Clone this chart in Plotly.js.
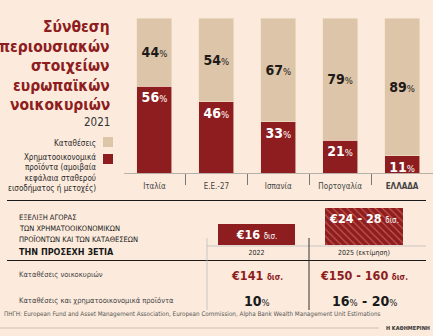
<!DOCTYPE html>
<html><head><meta charset="utf-8">
<script src="https://cdn.plot.ly/plotly-3.0.1.min.js"></script>
<style>html,body{margin:0;padding:0;background:#fcebdc;}#chart{width:433px;height:336px;}</style>
</head><body><div id="chart"></div>
<script>
// ---- data ----
const countries = ["Ιταλία", "Ε.Ε.-27", "Ισπανία", "Πορτογαλία", "ΕΛΛΑΔΑ"];
const financialProducts = [56, 46, 33, 21, 11];
const deposits = [44, 54, 67, 79, 89];
const years = ["2022", "2025 (εκτίμηση)"];
const marketLow = [16, 24];
const marketHigh = [16, 28];
const householdDepositsLow = [141, 150];
const householdDepositsHigh = [141, 160];
const shareLow = [10, 16];
const shareHigh = [10, 20];

// ---- helpers ----
const W = 433, H = 336;
const px = x => x / W;
const py = y => 1 - y / H;
const BG = "#fcebdc", RED = "#8d1d1f", LIGHT = "#ddc5a9";
const NARROW = "'Liberation Sans Narrow', 'DejaVu Sans Condensed', Roboto, sans-serif";
const rng = (lo, hi) => lo === hi ? `${lo}` : `${lo} - ${hi}`;

const pct = v => `<b>${v}</b><span style="font-size:9.5px">%</span>`;

const traces = [
  { type: "bar", x: countries, y: financialProducts, xaxis: "x", yaxis: "y",
    marker: { color: RED, line: { color: "#f3e0cc", width: 0.6 } }, width: 0.565,
    text: financialProducts.map(pct), texttemplate: "%{text}", textposition: "inside",
    insidetextanchor: "end", constraintext: "none",
    textfont: { family: NARROW, size: 14, color: "#ffffff" }, hoverinfo: "skip" },
  { type: "bar", x: countries, y: deposits, xaxis: "x", yaxis: "y",
    marker: { color: LIGHT, line: { color: "#f3e0cc", width: 0.6 } }, width: 0.565,
    text: deposits.map(pct), texttemplate: "%{text}", textposition: "inside",
    insidetextanchor: "middle", constraintext: "none",
    textfont: { family: NARROW, size: 14, color: "#1e1a18" }, hoverinfo: "skip" },
  { type: "scatter", x: [0], y: [0], xaxis: "x2", yaxis: "y", mode: "none", hoverinfo: "skip" },
  { type: "bar", x: years, y: marketHigh, xaxis: "x3", yaxis: "y3", width: 0.72,
    marker: { color: RED, pattern: { shape: ["", "\\"], fgcolor: "#c4544c", bgcolor: RED, size: 5, solidity: 0.25 } },
    text: marketLow.map((lo, i) => `<b>€${rng(lo, marketHigh[i])}</b> <span style="font-size:8px">δισ.</span>`),
    texttemplate: "%{text}", textposition: "inside", insidetextanchor: "end", constraintext: "none",
    textfont: { family: NARROW, size: 12.5, color: "#ffffff" }, hoverinfo: "skip" }
];

const annotations = [];
const titleLines = ["Σύνθεση", "περιουσιακών", "στοιχείων", "ευρωπαϊκών", "νοικοκυριών"];
const titleY = [27, 47, 66.5, 86, 105];
titleLines.forEach((t, i) => annotations.push({
  text: `<b>${t}</b>`, xref: "paper", yref: "paper", x: px(112), y: py(titleY[i]),
  xanchor: "right", yanchor: "middle", showarrow: false,
  font: { family: NARROW, size: 15.5, color: RED } }));
annotations.push({ text: "2021", xref: "paper", yref: "paper", x: px(112), y: py(122),
  xanchor: "right", yanchor: "middle", showarrow: false, font: { family: NARROW, size: 11.5, color: "#333" } });
annotations.push({ text: "Καταθέσεις", xref: "paper", yref: "paper", x: px(98), y: py(143),
  xanchor: "right", yanchor: "middle", showarrow: false, font: { family: NARROW, size: 8, color: "#2a2a2a" } });
annotations.push({ text: "Χρηματοοικονομικά<br>προϊόντα (αμοιβαία<br>κεφάλαια σταθερού<br>εισοδήματος ή μετοχές)",
  xref: "paper", yref: "paper", x: px(98), y: py(151), align: "right",
  xanchor: "right", yanchor: "top", showarrow: false, font: { family: NARROW, size: 8, color: "#2a2a2a" } });

// lower section header
const hdr = [["ΕΞΕΛΙΞΗ ΑΓΟΡΑΣ", 217, 7.5], ["ΤΩΝ ΧΡΗΜΑΤΟΟΙΚΟΝΟΜΙΚΩΝ", 228, 7.5],
             ["ΠΡΟΪΟΝΤΩΝ ΚΑΙ ΤΩΝ ΚΑΤΑΘΕΣΕΩΝ", 239.5, 7.5], ["<b>ΤΗΝ ΠΡΟΣΕΧΗ 3ΕΤΙΑ</b>", 252, 9]];
hdr.forEach(h => annotations.push({ text: h[0], xref: "paper", yref: "paper", x: px(17), y: py(h[1]),
  xanchor: "left", yanchor: "middle", showarrow: false, font: { family: NARROW, size: h[2], color: "#1a1a1a" } }));
annotations.push({ text: "Καταθέσεις νοικοκυριών", xref: "paper", yref: "paper", x: px(17), y: py(274),
  xanchor: "left", yanchor: "middle", showarrow: false, font: { family: NARROW, size: 7.5, color: "#444" } });
annotations.push({ text: "Καταθέσεις και χρηματοοικονομικά προϊόντα", xref: "paper", yref: "paper", x: px(17), y: py(300),
  xanchor: "left", yanchor: "middle", showarrow: false, font: { family: NARROW, size: 7.5, color: "#444" } });
years.forEach((yr, i) => {
  annotations.push({ text: `<b>€${rng(householdDepositsLow[i], householdDepositsHigh[i])}</b> <span style="font-size:8px"><b>δισ.</b></span>`,
    xref: "x3", yref: "paper", x: i, y: py(275), xanchor: "center", yanchor: "middle", showarrow: false,
    font: { family: NARROW, size: 12.5, color: RED } });
  const s = shareLow[i] === shareHigh[i] ? pct(shareLow[i]) : `${pct(shareLow[i])}<b> - </b>${pct(shareHigh[i])}`;
  annotations.push({ text: s, xref: "x3", yref: "paper", x: i, y: py(301), xanchor: "center", yanchor: "middle", showarrow: false,
    font: { family: NARROW, size: 14, color: "#1a1a1a" } });
});
annotations.push({ text: "ΠΗΓΗ: European Fund and Asset Management Association, European Commission, Alpha Bank Wealth Management Unit Estimations",
  xref: "paper", yref: "paper", x: px(2), y: py(314), xanchor: "left", yanchor: "middle", showarrow: false,
  font: { family: NARROW, size: 6.3, color: "#555" } });
annotations.push({ text: "<b>Η ΚΑΘΗΜΕΡΙΝΗ</b>", xref: "paper", yref: "paper", x: px(432), y: py(327.5), xanchor: "right", yanchor: "middle", showarrow: false,
  font: { family: NARROW, size: 5.5, color: "#333" } });

const line = (x0, y0, x1, y1, color, w) => ({ type: "line", xref: "paper", yref: "paper",
  x0: px(x0), y0: py(y0), x1: px(x1), y1: py(y1), line: { color, width: w } });
const shapes = [
  { type: "rect", xref: "paper", yref: "paper", x0: px(103), x1: px(113), y0: py(147), y1: py(137), fillcolor: LIGHT, line: { width: 0 } },
  { type: "rect", xref: "paper", yref: "paper", x0: px(103), x1: px(113), y0: py(164), y1: py(154), fillcolor: RED, line: { width: 0 } },
  line(7, 200.5, 426, 200.5, "#1a1a1a", 1.2),
  line(207, 246, 426, 246, "#bbb", 0.8),
  line(7, 260.5, 426, 260.5, "#1a1a1a", 1.2),
  line(207, 238, 207, 310, "#bbb", 0.8),
  line(309, 238, 309, 310, "#333", 1),
  line(0, 328, 379, 328, "#c9c0b8", 1.2)
];

const layout = {
  width: W, height: H, margin: { l: 0, r: 0, t: 0, b: 0 },
  paper_bgcolor: BG, plot_bgcolor: "rgba(0,0,0,0)", showlegend: false, barmode: "stack",
  xaxis: { domain: [px(123.5), 1], range: [-0.5, 4.5], type: "category", anchor: "y",
    tickvals: countries, ticktext: countries.map(c => c === "ΕΛΛΑΔΑ" ? `<b>${c}</b>` : c),
    ticks: "", showline: true, linecolor: "#b8b0a8", linewidth: 1, showgrid: false, zeroline: false,
    tickfont: { family: NARROW, size: 8, color: "#444" }, ticklabelstandoff: 5, fixedrange: true },
  xaxis2: { overlaying: "x", anchor: "y", range: [-0.5, 4.5], type: "linear", tickvals: [0.5, 1.5, 2.5, 3.5],
    ticks: "outside", ticklen: 11, tickcolor: "#777", tickwidth: 1, showticklabels: false,
    showgrid: false, zeroline: false, showline: false },
  yaxis: { domain: [py(173), py(18)], range: [0, 100], visible: false, fixedrange: true },
  xaxis3: { domain: [px(202.75), px(417.75)], range: [-0.5, 1.5], type: "category", anchor: "y3",
    ticks: "", showline: false, showgrid: false, zeroline: false,
    tickfont: { family: NARROW, size: 7, color: "#222" }, ticklabelstandoff: 2 },
  yaxis3: { domain: [py(245), py(245 - 30 * 1.32)], range: [0, 30], visible: false, anchor: "x3" },
  annotations, shapes
};
Plotly.newPlot("chart", traces, layout, { displayModeBar: false, staticPlot: true });
</script></body></html>
